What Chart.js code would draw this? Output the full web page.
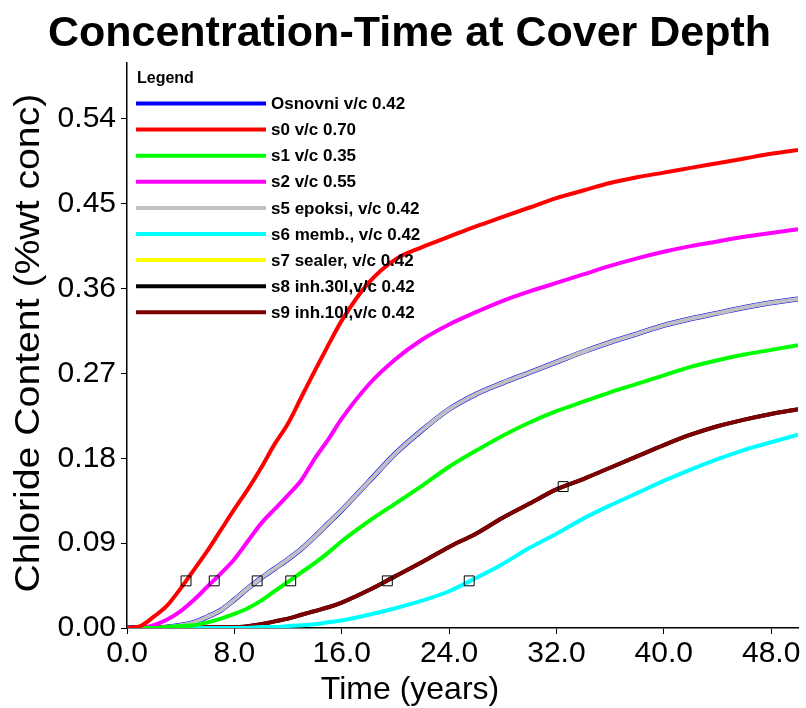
<!DOCTYPE html>
<html>
<head>
<meta charset="utf-8">
<script src="https://cdn.jsdelivr.net/npm/chart.js@4.4.0/dist/chart.umd.min.js"></script>
<style>
  html, body { margin: 0; padding: 0; background: #fff; }
  #wrap { width: 806px; height: 708px; }
</style>
</head>
<body>
<div id="wrap"><canvas id="myChart" width="806" height="708"></canvas></div>
<script>
// data
const years = [0, 1, 2, 3, 4, 5, 6, 7, 8, 9, 10, 11, 12, 13, 14, 15, 16, 18, 20, 22, 24, 26, 28, 30, 32, 34, 36, 38, 40, 42, 44, 46, 48, 50];

const osnovni = [0, 0, 0, 0.001, 0.003, 0.006, 0.012, 0.019, 0.03, 0.042, 0.053, 0.063, 0.073, 0.084, 0.097, 0.111, 0.125, 0.155, 0.185, 0.21, 0.232, 0.248, 0.26, 0.271, 0.282, 0.293, 0.303, 0.312, 0.321, 0.328, 0.334, 0.34, 0.345, 0.349];
const s0 = [0, 0.002, 0.012, 0.024, 0.042, 0.062, 0.082, 0.104, 0.126, 0.147, 0.17, 0.195, 0.217, 0.245, 0.273, 0.3, 0.326, 0.366, 0.391, 0.404, 0.415, 0.426, 0.436, 0.446, 0.456, 0.464, 0.472, 0.478, 0.483, 0.488, 0.493, 0.498, 0.503, 0.507];
const s1 = [0, 0, 0, 0.001, 0.002, 0.003, 0.006, 0.01, 0.015, 0.021, 0.029, 0.039, 0.049, 0.059, 0.069, 0.08, 0.092, 0.113, 0.132, 0.151, 0.171, 0.188, 0.204, 0.218, 0.23, 0.24, 0.25, 0.259, 0.268, 0.277, 0.284, 0.29, 0.295, 0.3];
const s2 = [0, 0, 0.003, 0.009, 0.018, 0.03, 0.044, 0.058, 0.073, 0.092, 0.111, 0.126, 0.141, 0.157, 0.18, 0.2, 0.222, 0.258, 0.285, 0.306, 0.322, 0.335, 0.347, 0.357, 0.366, 0.375, 0.384, 0.392, 0.399, 0.405, 0.41, 0.415, 0.419, 0.423];
const s5 = [0, 0, 0, 0.001, 0.003, 0.006, 0.012, 0.019, 0.03, 0.042, 0.053, 0.063, 0.073, 0.084, 0.097, 0.111, 0.125, 0.155, 0.185, 0.21, 0.232, 0.248, 0.26, 0.271, 0.282, 0.293, 0.303, 0.312, 0.321, 0.328, 0.334, 0.34, 0.345, 0.349];
const s6 = [0, 0, 0, 0, 0, 0, 0, 0, 0, 0, 0.001, 0.001, 0.002, 0.003, 0.004, 0.006, 0.008, 0.014, 0.021, 0.029, 0.039, 0.053, 0.068, 0.085, 0.1, 0.116, 0.13, 0.143, 0.156, 0.168, 0.179, 0.189, 0.197, 0.205];
const s7 = [0, 0, 0, 0.001, 0.003, 0.006, 0.012, 0.019, 0.03, 0.042, 0.053, 0.063, 0.073, 0.084, 0.097, 0.111, 0.125, 0.155, 0.185, 0.21, 0.232, 0.248, 0.26, 0.271, 0.282, 0.293, 0.303, 0.312, 0.321, 0.328, 0.334, 0.34, 0.345, 0.349];
const s8 = [0, 0.001, 0.001, 0.001, 0.001, 0.001, 0.001, 0.001, 0.001, 0.002, 0.004, 0.007, 0.01, 0.014, 0.018, 0.022, 0.027, 0.04, 0.055, 0.07, 0.086, 0.1, 0.117, 0.132, 0.147, 0.158, 0.17, 0.182, 0.194, 0.205, 0.214, 0.221, 0.227, 0.232];
const s9 = [0, 0.001, 0.001, 0.001, 0.001, 0.001, 0.001, 0.001, 0.001, 0.002, 0.004, 0.007, 0.01, 0.014, 0.018, 0.022, 0.027, 0.04, 0.055, 0.07, 0.086, 0.1, 0.117, 0.132, 0.147, 0.158, 0.17, 0.182, 0.194, 0.205, 0.214, 0.221, 0.227, 0.232];

// corrosion initiation markers
const initYears = [4.4, 6.5, 9.7, 12.2, 19.4, 25.5, 32.5];
const initConc = [0.05, 0.05, 0.05, 0.05, 0.05, 0.05, 0.15];

const yTicks = [0, 0.09, 0.18, 0.27, 0.36, 0.45, 0.54];
const xTicks = [0, 8, 16, 24, 32, 40, 48];

const FONT = "'Liberation Sans', Arial, sans-serif";

function pts(vals) {
  return vals.map((v, i) => ({ x: years[i], y: v }));
}

function line(label, vals, color, order, width) {
  return {
    label: label,
    data: pts(vals),
    borderColor: color,
    backgroundColor: color,
    borderWidth: width || 4,
    pointRadius: 0,
    cubicInterpolationMode: "monotone",
    order: order,
  };
}

const datasets = [
  line("Osnovni v/c 0.42", osnovni, "#0000ff", 8, 5),
  line("s0 v/c 0.70", s0, "#ff0000", 2),
  line("s1 v/c 0.35", s1, "#00ff00", 3),
  line("s2 v/c 0.55", s2, "#ff00ff", 4),
  line("s5 epoksi, v/c 0.42", s5, "#c0c0c0", 5),
  line("s6 memb., v/c 0.42", s6, "#00ffff", 6),
  line("s7 sealer, v/c 0.42", s7, "#ffff00", 9),
  line("s8 inh.30l,v/c 0.42", s8, "#000000", 10),
  line("s9 inh.10l,v/c 0.42", s9, "#7f0000", 7),
  {
    label: "init",
    data: initYears.map((t, i) => ({ x: t, y: initConc[i] })),
    showLine: false,
    pointStyle: "rect",
    pointRadius: 7,
    pointBorderWidth: 1,
    pointBorderColor: "#000",
    pointBackgroundColor: "rgba(0,0,0,0)",
    order: 0,
  },
];

// legend inside the plot (top-left) and both axis titles
const boxLegend = {
  id: "boxLegend",
  afterDatasetsDraw(chart) {
    const c = chart.ctx;
    c.save();
    c.fillStyle = "#000";
    c.textBaseline = "middle";
    c.font = "bold 16px " + FONT;
    c.fillText("Legend", 137, 79);
    c.font = "bold 17px " + FONT;
    chart.data.datasets.forEach((ds, i) => {
      if (ds.label === "init") return;
      const y = 103.5 + i * 26.1;
      c.strokeStyle = ds.borderColor;
      c.lineWidth = 4;
      c.beginPath();
      c.moveTo(136, y);
      c.lineTo(266, y);
      c.stroke();
      c.fillText(ds.label, 271, y + 1);
    });

    // x axis title (centred on the page, as in the original)
    c.textAlign = "center";
    c.font = "32px " + FONT;
    c.fillText("Time (years)", 410, 690);

    // y axis title
    const a = chart.chartArea;
    c.translate(29, (a.top + a.bottom) / 2 - 2);
    c.rotate(-Math.PI / 2);
    c.scale(1.12, 1);
    c.font = "35px " + FONT;
    c.fillText("Chloride Content (%wt conc)", 0, 0);
    c.restore();
  },
};

const ctx = document.getElementById("myChart").getContext("2d");
const myChart = new Chart(ctx, {
  type: "line",
  data: { datasets: datasets },
  options: {
    responsive: false,
    animation: false,
    layout: { padding: { left: 20, right: 7, top: 0, bottom: 0 } },
    plugins: {
      legend: { display: false },
      tooltip: { enabled: false },
      title: {
        display: true,
        text: "Concentration-Time at Cover Depth",
        color: "#000",
        font: { family: FONT, size: 43, weight: "bold", lineHeight: 1.1 },
        padding: { top: 10, bottom: 5 },
      },
    },
    scales: {
      x: {
        type: "linear",
        min: 0,
        max: 50,
        afterFit: (s) => { s.height = 80; },
        afterBuildTicks: (s) => { s.ticks = xTicks.map((v) => ({ value: v })); },
        ticks: {
          color: "#000",
          font: { family: FONT, size: 30 },
          padding: 2,
          maxRotation: 0,
          callback: (v) => v.toFixed(1),
        },
        grid: { drawOnChartArea: false, color: "#000", tickLength: 6, lineWidth: 1 },
        border: { color: "#000", width: 1.5 },
      },
      y: {
        type: "linear",
        min: 0,
        max: 0.6,
        afterFit: (s) => { s.width = 107; },
        afterBuildTicks: (s) => { s.ticks = yTicks.map((v) => ({ value: v })); },
        ticks: {
          color: "#000",
          font: { family: FONT, size: 30 },
          padding: 5,
          callback: (v) => v.toFixed(2),
        },
        grid: { drawOnChartArea: false, color: "#000", tickLength: 6, lineWidth: 1 },
        border: { color: "#000", width: 1.5 },
      },
    },
  },
  plugins: [boxLegend],
});
</script>
</body>
</html>
